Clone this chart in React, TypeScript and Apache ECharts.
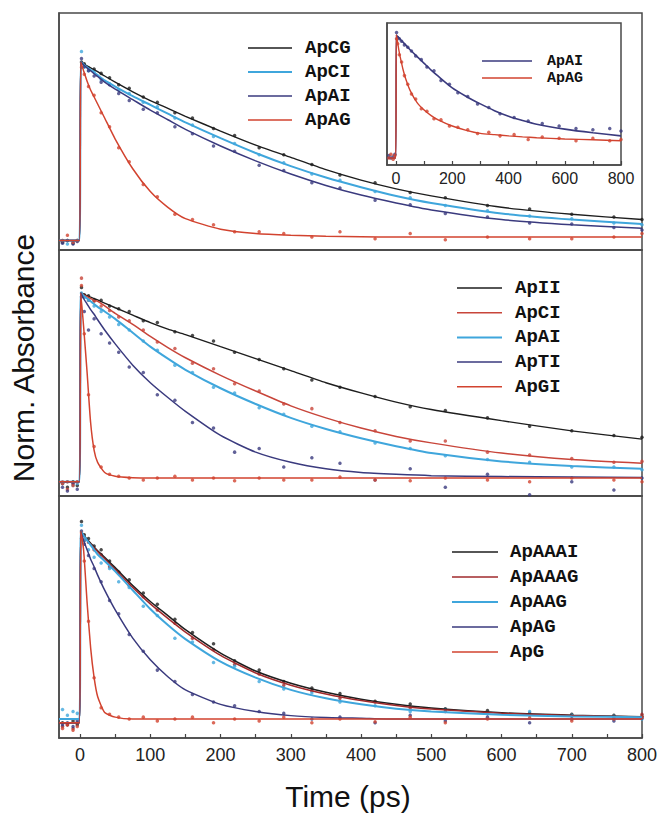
import React, { useEffect, useRef } from "react";
import * as echarts from "echarts";

// ---------- shared time grids (ps) ----------
const curveT = [-30, -1, 1, 5, 10, 15, 20, 25, 35, 50, 75, 100, 125, 150, 200, 250, 300, 350, 400, 450, 500, 600, 700, 800];
const dotT = [-25, -18, -10, -4, 2, 6, 12, 20, 30, 42, 55, 70, 90, 110, 135, 160, 190, 220, 255, 290, 330, 370, 420, 470, 520, 580, 640, 700, 760, 800];

// ---------- x tick labels ----------
const mainTicks = [0, 100, 200, 300, 400, 500, 600, 700, 800];
const mainMinorTicks = [0, 50, 100, 150, 200, 250, 300, 350, 400, 450, 500, 550, 600, 650, 700, 750, 800];
const insetTicks = [0, 100, 200, 300, 400, 500, 600, 700, 800];
const insetLabels = [0, 200, 400, 600, 800];

// ---------- Panel 1 ----------
const apCG_P1_fit = [-0.02, -0.02, 1.0, 0.99, 0.978, 0.967, 0.956, 0.945, 0.92, 0.885, 0.83, 0.78, 0.735, 0.69, 0.605, 0.525, 0.455, 0.385, 0.325, 0.275, 0.235, 0.17, 0.13, 0.10];
const apCI_P1_fit = [-0.02, -0.02, 1.0, 0.985, 0.97, 0.955, 0.94, 0.925, 0.895, 0.86, 0.805, 0.755, 0.705, 0.655, 0.565, 0.48, 0.405, 0.34, 0.285, 0.235, 0.195, 0.135, 0.10, 0.075];
const apAI_P1_fit = [-0.02, -0.02, 1.0, 0.983, 0.966, 0.95, 0.933, 0.917, 0.885, 0.845, 0.785, 0.725, 0.67, 0.615, 0.52, 0.435, 0.36, 0.295, 0.24, 0.195, 0.155, 0.10, 0.07, 0.05];
const apAG_P1_fit = [-0.02, -0.02, 1.0, 0.95, 0.89, 0.84, 0.80, 0.76, 0.68, 0.56, 0.39, 0.26, 0.17, 0.105, 0.045, 0.02, 0.01, 0.005, 0.002, 0, 0, 0, 0, 0];

const apCG_P1_dots = [-0.03, -0.02, -0.035, -0.02, 1.0, 0.99, 0.965, 0.96, 0.935, 0.91, 0.87, 0.85, 0.80, 0.77, 0.71, 0.68, 0.62, 0.58, 0.51, 0.47, 0.415, 0.355, 0.31, 0.255, 0.225, 0.18, 0.16, 0.13, 0.115, 0.10];
const apCI_P1_dots = [-0.02, -0.04, -0.03, -0.02, 1.06, 0.97, 0.95, 0.945, 0.9, 0.875, 0.84, 0.82, 0.77, 0.745, 0.68, 0.64, 0.575, 0.535, 0.47, 0.425, 0.36, 0.325, 0.26, 0.225, 0.18, 0.15, 0.12, 0.105, 0.08, 0.07];
const apAI_P1_dots = [-0.035, -0.02, -0.04, -0.025, 1.02, 0.975, 0.95, 0.92, 0.885, 0.87, 0.82, 0.78, 0.73, 0.71, 0.63, 0.59, 0.52, 0.49, 0.41, 0.38, 0.31, 0.28, 0.21, 0.185, 0.135, 0.115, 0.08, 0.075, 0.055, 0.04];
const apAG_P1_dots = [-0.02, 0.01, -0.03, -0.02, 0.97, 0.93, 0.86, 0.81, 0.71, 0.63, 0.51, 0.43, 0.3, 0.23, 0.13, 0.1, 0.07, 0.03, 0.03, 0.02, 0.0, 0.03, -0.01, 0.02, -0.015, 0.0, -0.01, -0.01, 0.0, 0.02];

// ---------- Panel 1 inset ----------
const apAI_in_fit = [0, 0, 1.0, 0.99, 0.978, 0.966, 0.954, 0.942, 0.918, 0.88, 0.825, 0.77, 0.715, 0.665, 0.57, 0.5, 0.44, 0.385, 0.34, 0.305, 0.275, 0.235, 0.205, 0.18];
const apAG_in_fit = [0, 0, 1.0, 0.95, 0.88, 0.82, 0.77, 0.72, 0.64, 0.55, 0.45, 0.39, 0.345, 0.31, 0.26, 0.225, 0.2, 0.19, 0.18, 0.172, 0.165, 0.155, 0.148, 0.14];
const apAI_in_dots = [0.02, 0.0, 0.01, 0.03, 1.02, 0.98, 0.97, 0.95, 0.92, 0.9, 0.87, 0.83, 0.8, 0.74, 0.71, 0.63, 0.6, 0.53, 0.5, 0.44, 0.41, 0.36, 0.33, 0.3, 0.28, 0.26, 0.24, 0.23, 0.24, 0.22];
const apAG_in_dots = [0.0, 0.03, -0.01, 0.02, 0.97, 0.93, 0.84, 0.78, 0.67, 0.6, 0.52, 0.48, 0.4, 0.38, 0.32, 0.31, 0.26, 0.25, 0.23, 0.2, 0.21, 0.18, 0.19, 0.15, 0.17, 0.16, 0.14, 0.16, 0.14, 0.15];

// ---------- Panel 2 ----------
const apII_fit = [-0.02, -0.02, 1.0, 0.993, 0.985, 0.977, 0.97, 0.962, 0.945, 0.92, 0.88, 0.84, 0.805, 0.775, 0.71, 0.645, 0.58, 0.515, 0.46, 0.41, 0.37, 0.31, 0.255, 0.21];
const apCI_P2_fit = [-0.02, -0.02, 1.0, 0.99, 0.98, 0.97, 0.96, 0.955, 0.93, 0.89, 0.83, 0.765, 0.705, 0.65, 0.555, 0.47, 0.39, 0.325, 0.27, 0.225, 0.19, 0.135, 0.10, 0.08];
const apAI_P2_fit = [-0.02, -0.02, 1.0, 0.985, 0.97, 0.955, 0.94, 0.925, 0.9, 0.86, 0.785, 0.71, 0.645, 0.585, 0.485, 0.40, 0.325, 0.265, 0.215, 0.172, 0.135, 0.09, 0.065, 0.05];
const apTI_fit = [-0.02, -0.02, 1.0, 0.97, 0.94, 0.91, 0.885, 0.855, 0.8, 0.725, 0.61, 0.515, 0.435, 0.36, 0.23, 0.14, 0.085, 0.05, 0.03, 0.02, 0.013, 0.008, 0.005, 0.003];
const apGI_fit = [-0.02, -0.02, 1.0, 0.82, 0.57, 0.3, 0.15, 0.085, 0.03, 0.01, 0.002, 0, 0, 0, 0, 0, 0, 0, 0, 0, 0, 0, 0, 0];

const apII_dots = [-0.03, -0.05, -0.02, -0.04, 1.03, 0.99, 0.985, 0.96, 0.96, 0.93, 0.915, 0.9, 0.85, 0.84, 0.79, 0.77, 0.74, 0.68, 0.64, 0.59, 0.53, 0.49, 0.44, 0.385, 0.365, 0.325, 0.28, 0.255, 0.23, 0.22];
const apCI_P2_dots = [-0.02, -0.06, -0.03, -0.02, 1.08, 0.98, 0.96, 0.955, 0.93, 0.905, 0.87, 0.85, 0.8, 0.735, 0.7, 0.62, 0.59, 0.51, 0.47, 0.4, 0.375, 0.3, 0.255, 0.2, 0.2, 0.14, 0.125, 0.105, 0.085, 0.09];
const apAI_P2_dots = [-0.03, -0.02, -0.04, -0.03, 1.0, 0.975, 0.96, 0.93, 0.9, 0.87, 0.83, 0.8, 0.74, 0.69, 0.61, 0.57, 0.49, 0.46, 0.38, 0.345, 0.28, 0.25, 0.19, 0.16, 0.12, 0.1, 0.085, 0.06, 0.06, 0.045];
const apTI_dots = [-0.05, -0.07, -0.03, -0.06, 0.98, 0.9, 0.8, 0.86, 0.78, 0.73, 0.68, 0.6, 0.57, 0.45, 0.42, 0.3, 0.27, 0.14, 0.16, 0.06, 0.11, 0.08, -0.01, 0.05, -0.05, 0.02, -0.09, -0.02, -0.065, 0.0];
const apGI_dots = [-0.03, -0.02, -0.04, -0.02, 1.04, 0.78, 0.45, 0.17, 0.06, 0.02, 0.01, 0.0, -0.01, 0.0, 0.01, -0.01, 0.0, -0.015, 0.0, -0.01, -0.01, 0.005, -0.01, -0.015, 0.0, -0.01, -0.02, 0.0, -0.01, -0.02];

// ---------- Panel 3 ----------
const apAAAI_fit = [-0.02, -0.02, 1.0, 0.98, 0.955, 0.935, 0.915, 0.895, 0.86, 0.805, 0.71, 0.625, 0.55, 0.475, 0.35, 0.255, 0.19, 0.142, 0.105, 0.078, 0.058, 0.033, 0.02, 0.012];
const apAAAG_fit = [-0.02, -0.02, 1.0, 0.975, 0.95, 0.93, 0.91, 0.89, 0.852, 0.795, 0.7, 0.612, 0.535, 0.462, 0.338, 0.245, 0.18, 0.133, 0.098, 0.072, 0.053, 0.03, 0.018, 0.011];
const apAAG_fit = [0.0, 0.0, 1.0, 0.975, 0.95, 0.925, 0.9, 0.875, 0.84, 0.785, 0.685, 0.585, 0.5, 0.425, 0.305, 0.22, 0.155, 0.11, 0.078, 0.055, 0.04, 0.022, 0.014, 0.01];
const apAG_P3_fit = [-0.02, -0.02, 1.0, 0.95, 0.9, 0.85, 0.81, 0.765, 0.685, 0.58, 0.43, 0.315, 0.225, 0.155, 0.078, 0.04, 0.018, 0.008, 0.004, 0, 0, 0, 0, 0];
const apG_fit = [-0.02, -0.02, 1.0, 0.9, 0.62, 0.38, 0.22, 0.12, 0.035, 0.01, 0, 0, 0, 0, 0, 0, 0, 0, 0, 0, 0, 0, 0, 0];

const apAAAI_dots = [-0.02, -0.03, -0.01, -0.03, 1.05, 0.98, 0.96, 0.92, 0.9, 0.84, 0.78, 0.74, 0.67, 0.61, 0.53, 0.46, 0.4, 0.31, 0.26, 0.2, 0.165, 0.135, 0.095, 0.08, 0.055, 0.045, 0.03, 0.025, 0.02, 0.015];
const apAAAG_dots = [-0.04, -0.03, -0.05, -0.02, 0.96, 0.95, 0.94, 0.9, 0.875, 0.81, 0.78, 0.71, 0.65, 0.58, 0.51, 0.43, 0.37, 0.29, 0.24, 0.18, 0.15, 0.11, 0.09, 0.06, 0.04, 0.03, 0.02, 0.015, 0.01, 0.025];
const apAAG_dots = [0.05, 0.02, 0.04, 0.03, 1.03, 0.95, 0.9, 0.86, 0.83, 0.8, 0.73, 0.7, 0.6, 0.55, 0.43, 0.41, 0.3, 0.28, 0.2, 0.16, 0.14, 0.09, 0.07, 0.04, 0.05, 0.03, 0.04, 0.02, 0.015, 0.0];
const apAG_P3_dots = [-0.03, -0.02, -0.04, -0.01, 1.0, 0.93, 0.87, 0.8, 0.73, 0.63, 0.56, 0.45, 0.36, 0.26, 0.2, 0.13, 0.09, 0.07, 0.04, 0.03, 0.0, 0.01, -0.02, 0.02, -0.01, 0.01, -0.02, 0.0, -0.01, 0.005];
const apG_dots = [-0.05, -0.03, -0.06, -0.04, 0.99, 0.84, 0.52, 0.22, 0.06, 0.025, 0.01, 0.0, 0.01, -0.01, 0.0, 0.01, -0.02, 0.0, -0.01, 0.01, -0.02, 0.0, -0.015, 0.01, -0.02, 0.0, 0.005, -0.01, 0.0, 0.01];

// ---------- styling ----------
const BLACK = "#1e1e1e";
const LBLUE = "#3fa6dc";
const NAVY = "#3a3a7e";
const RED = "#d2432f";
const RED2 = "#c8453a";
const DRED = "#a02a2c";

type Curve = { name: string; fit: number[]; dots: number[]; color: string; width: number };

const panel1: Curve[] = [
  { name: "ApCG", fit: apCG_P1_fit, dots: apCG_P1_dots, color: BLACK, width: 1.4 },
  { name: "ApCI", fit: apCI_P1_fit, dots: apCI_P1_dots, color: LBLUE, width: 2 },
  { name: "ApAI", fit: apAI_P1_fit, dots: apAI_P1_dots, color: NAVY, width: 1.5 },
  { name: "ApAG", fit: apAG_P1_fit, dots: apAG_P1_dots, color: RED, width: 1.5 },
];
const inset: Curve[] = [
  { name: "ApAI", fit: apAI_in_fit, dots: apAI_in_dots, color: NAVY, width: 1.6 },
  { name: "ApAG", fit: apAG_in_fit, dots: apAG_in_dots, color: RED, width: 1.4 },
];
const panel2: Curve[] = [
  { name: "ApII", fit: apII_fit, dots: apII_dots, color: BLACK, width: 1.4 },
  { name: "ApCI", fit: apCI_P2_fit, dots: apCI_P2_dots, color: RED2, width: 1.5 },
  { name: "ApAI", fit: apAI_P2_fit, dots: apAI_P2_dots, color: LBLUE, width: 2 },
  { name: "ApTI", fit: apTI_fit, dots: apTI_dots, color: NAVY, width: 1.5 },
  { name: "ApGI", fit: apGI_fit, dots: apGI_dots, color: RED, width: 1.5 },
];
const panel3: Curve[] = [
  { name: "ApAAAI", fit: apAAAI_fit, dots: apAAAI_dots, color: BLACK, width: 1.5 },
  { name: "ApAAAG", fit: apAAAG_fit, dots: apAAAG_dots, color: DRED, width: 1.5 },
  { name: "ApAAG", fit: apAAG_fit, dots: apAAG_dots, color: LBLUE, width: 2 },
  { name: "ApAG", fit: apAG_P3_fit, dots: apAG_P3_dots, color: NAVY, width: 1.5 },
  { name: "ApG", fit: apG_fit, dots: apG_dots, color: RED, width: 1.5 },
];

const grids = [
  { left: 59, top: 13, width: 583, height: 237 },
  { left: 59, top: 250, width: 583, height: 246 },
  { left: 59, top: 496, width: 583, height: 242 },
  { left: 387, top: 23, width: 234, height: 142 },
];
const yRanges = [
  [-0.074, 1.28],
  [-0.097, 1.232],
  [-0.101, 1.186],
  [-0.057, 1.098],
];

const legendSpecs = [
  { curves: panel1, lx1: 248, lx2: 292, tx: 305, y0: 48, dy: 24, fs: 19 },
  { curves: panel2, lx1: 457, lx2: 502, tx: 515, y0: 288, dy: 24.7, fs: 19 },
  { curves: panel3, lx1: 452, lx2: 498, tx: 510, y0: 552, dy: 25, fs: 19 },
  { curves: inset, lx1: 482, lx2: 532, tx: 547, y0: 61, dy: 17, fs: 15 },
];

function buildOption() {
  const panels = [panel1, panel2, panel3, inset];
  const series: any[] = [];
  panels.forEach((curves, gi) => {
    curves.forEach((c) => {
      series.push({
        type: "scatter",
        xAxisIndex: gi,
        yAxisIndex: gi,
        data: dotT.map((t, k) => [t, c.dots[k]]),
        symbol: "circle",
        symbolSize: 3.5,
        itemStyle: { color: c.color },
        silent: true,
        z: 2,
      });
      series.push({
        type: "line",
        name: c.name,
        xAxisIndex: gi,
        yAxisIndex: gi,
        data: curveT.map((t, k) => [t, c.fit[k]]),
        showSymbol: false,
        smooth: 0.2,
        lineStyle: { color: c.color, width: c.width },
        itemStyle: { color: c.color },
        silent: true,
        z: 3,
      });
    });
  });

  const graphic: any[] = [];
  legendSpecs.forEach((L) => {
    L.curves.forEach((c, i) => {
      const y = L.y0 + i * L.dy;
      graphic.push({
        type: "line",
        z: 100,
        shape: { x1: L.lx1, y1: y, x2: L.lx2, y2: y },
        style: { stroke: c.color, lineWidth: c.width },
      });
      graphic.push({
        type: "text",
        z: 100,
        x: L.tx,
        y: y,
        style: {
          text: c.name,
          fill: "#111",
          font: `bold ${L.fs}px "Liberation Mono", "DejaVu Sans Mono", monospace`,
          align: "left",
          verticalAlign: "middle",
        },
      });
    });
  });
  graphic.push({
    type: "text",
    z: 100,
    x: 23,
    y: 358,
    rotation: Math.PI / 2,
    style: {
      text: "Norm. Absorbance",
      fill: "#111",
      font: '30px "Liberation Sans", Arial, sans-serif',
      align: "center",
      verticalAlign: "middle",
    },
  });
  graphic.push({
    type: "text",
    z: 100,
    x: 348,
    y: 796,
    style: {
      text: "Time (ps)",
      fill: "#111",
      font: '30px "Liberation Sans", Arial, sans-serif',
      align: "center",
      verticalAlign: "middle",
    },
  });

  const xAxis: any[] = [0, 1, 2, 3].map((gi) => {
    const isBottom = gi === 2;
    const isInset = gi === 3;
    return {
      type: "value",
      gridIndex: gi,
      position: "bottom",
      min: isInset ? -32 : -30,
      max: 800,
      axisLine: { show: true, onZero: false, lineStyle: { color: "#4a4a4a", width: 1.5 } },
      splitLine: { show: false },
      axisTick: {
        show: isBottom || isInset,
        inside: true,
        length: 4,
        customValues: isInset ? insetTicks : mainMinorTicks,
        lineStyle: { color: "#444", width: 1.2 },
      },
      axisLabel: {
        show: isBottom || isInset,
        customValues: isInset ? insetLabels : mainTicks,
        fontSize: isInset ? 16 : 18,
        fontFamily: '"Liberation Sans", Arial, sans-serif',
        color: "#222",
        margin: isInset ? 5 : 8,
      },
    };
  });
  const yAxis: any[] = [0, 1, 2, 3].map((gi) => ({
    type: "value",
    gridIndex: gi,
    position: "left",
    min: yRanges[gi][0],
    max: yRanges[gi][1],
    axisLine: { show: true, onZero: false, lineStyle: { color: "#4a4a4a", width: 1.5 } },
    axisTick: { show: false },
    axisLabel: { show: false },
    splitLine: { show: false },
  }));

  return {
    animation: false,
    backgroundColor: "#fff",
    grid: grids.map((g, gi) => ({
      ...g,
      show: true,
      borderColor: "#4a4a4a",
      borderWidth: 1.5,
      backgroundColor: gi === 3 ? "#fff" : "transparent",
      containLabel: false,
      outerBoundsMode: "none",
    })),
    xAxis,
    yAxis,
    series,
    graphic,
  };
}

export default function App() {
  const ref = useRef<HTMLDivElement>(null);
  useEffect(() => {
    if (!ref.current) return;
    const chart = echarts.init(ref.current, null, { renderer: "svg" });
    chart.setOption(buildOption() as any);
    return () => chart.dispose();
  }, []);
  return (
    <div
      ref={ref}
      style={{ position: "fixed", left: 0, top: 0, width: 658, height: 814, background: "#fff" }}
    />
  );
}
